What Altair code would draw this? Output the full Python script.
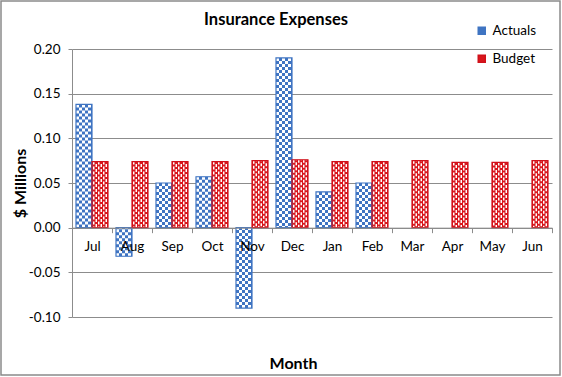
import altair as alt
import pandas as pd

# ---- data ----
months = ["Jul", "Aug", "Sep", "Oct", "Nov", "Dec", "Jan", "Feb", "Mar", "Apr", "May", "Jun"]
actuals = [0.138, -0.032, 0.050, 0.057, -0.090, 0.190, 0.040, 0.050]          # Jul..Feb
budget = [0.074, 0.074, 0.074, 0.074, 0.075, 0.076, 0.074, 0.074, 0.075, 0.073, 0.073, 0.075]
series_names = ["Actuals", "Budget"]
y_ticks = [-0.10, -0.05, 0.00, 0.05, 0.10, 0.15, 0.20]

# ---- styles ----
BLUE = "#3F74C2"
BLUE_EDGE = "#3F74C2"
RED = "#D9161C"
RED_EDGE = "#D0101A"
GRID = "#8C8C8C"
FONT = "Lato"
W, H = 480, 268
Y_MIN, Y_MAX = -0.10, 0.20

rows = [{"month": m, "series": "Actuals", "value": v} for m, v in zip(months, actuals)]
rows += [{"month": m, "series": "Budget", "value": v} for m, v in zip(months, budget)]
df = pd.DataFrame(rows)
df_act = df[df.series == "Actuals"]
df_bud = df[df.series == "Budget"]

x_scale = alt.Scale(domain=months, paddingInner=0, paddingOuter=0)
y_scale = alt.Scale(domain=[Y_MIN, Y_MAX], nice=False)
off_scale = alt.Scale(domain=series_names, paddingInner=0, paddingOuter=0.25)
color_scale = alt.Scale(domain=series_names, range=[BLUE, RED])
stroke_scale = alt.Scale(domain=series_names, range=[BLUE_EDGE, RED_EDGE])

x_axis = alt.Axis(
    title="Month", labelAngle=0, tickBand="extent", offset=-H * (0 - Y_MIN) / (Y_MAX - Y_MIN),
    zindex=1, domainColor=GRID, tickColor=GRID, tickSize=5, tickWidth=1, labelPadding=7,
    labelFont=FONT, labelFontSize=13.5, labelColor="#000000",
    titleFont=FONT, titleFontSize=16, titleFontWeight="bold", titleColor="#000000",
    titleX=221, titleY=136, titleBaseline="middle", titleAlign="center", titleAngle=0,
)
y_axis = alt.Axis(
    title="$ Millions", values=y_ticks, grid=True, gridColor=GRID, gridWidth=1,
    domainColor=GRID, tickColor=GRID, tickSize=4, labelPadding=8,
    labelExpr="replace(format(datum.value, '.2f'), '\u2212', '-')",
    labelFont=FONT, labelFontSize=13.5, labelColor="#000000",
    titleFont=FONT, titleFontSize=16, titleFontWeight="bold", titleColor="#000000",
    titleX=-52, titleY=H / 2, titleAngle=-90, titleBaseline="middle", titleAlign="center",
)

legend = alt.Legend(
    title=None, orient="none", legendX=403, legendY=-25, symbolType="square",
    symbolSize=49, labelFont=FONT, labelFontSize=13.5, labelColor="#000000",
    rowPadding=13, labelOffset=4, padding=0,
)

X = alt.X("month:N", scale=x_scale, sort=months, axis=x_axis)
Y = alt.Y("value:Q", scale=y_scale, axis=y_axis)

base = alt.Chart(df).mark_bar().encode(
    x=X,
    xOffset=alt.XOffset("series:N", scale=off_scale),
    y=Y,
    y2=alt.datum(0),
    color=alt.Color("series:N", scale=color_scale, legend=legend),
)

outline = alt.Chart(df).mark_bar(fillOpacity=0, strokeWidth=1.2).encode(
    x=X,
    xOffset=alt.XOffset("series:N", scale=off_scale),
    y=Y,
    y2=alt.datum(0),
    stroke=alt.Stroke("series:N", scale=stroke_scale, legend=None),
)

pattern_layers = []
# checkerboard for Actuals: white dashed columns over the blue bar
for k in range(5):
    pattern_layers.append(
        alt.Chart(df_act).mark_rule(
            color="white", strokeWidth=3, strokeDash=[3, 3],
            strokeDashOffset=3 * (k % 2), xOffset=-16 + 1.5 + 3 * k,
        ).encode(x=X, y=Y, y2=alt.datum(0))
    )
# fine texture for Budget: thin white dashed columns over the red bar
for k in range(6):
    pattern_layers.append(
        alt.Chart(df_bud).mark_rule(
            color="white", strokeWidth=1.5, strokeDash=[3, 2],
            strokeDashOffset=2.5 * (k % 2), xOffset=1.75 + 2.5 * k,
        ).encode(x=X, y=Y, y2=alt.datum(0))
    )

border = alt.Chart(pd.DataFrame({"b": [0]})).mark_rect(
    fill="white", fillOpacity=0, stroke="#8A8A8A", strokeWidth=1.5
).encode(
    x=alt.value(-71), x2=alt.value(488), y=alt.value(-48), y2=alt.value(326)
)

chart = alt.layer(base, *pattern_layers, outline, border).properties(
    width=W, height=H,
    autosize="none",
    padding={"left": 72, "top": 49, "right": 10, "bottom": 60},
    background="white",
    title=alt.TitleParams(
        "Insurance Expenses", font=FONT, fontSize=16.5, fontWeight="bold", color="#000000",
        anchor="middle", dx=-36, dy=25, offset=-3,
    ),
).configure_view(stroke=None)

chart.save("out.html", embed_options={"renderer": "svg", "actions": False})
